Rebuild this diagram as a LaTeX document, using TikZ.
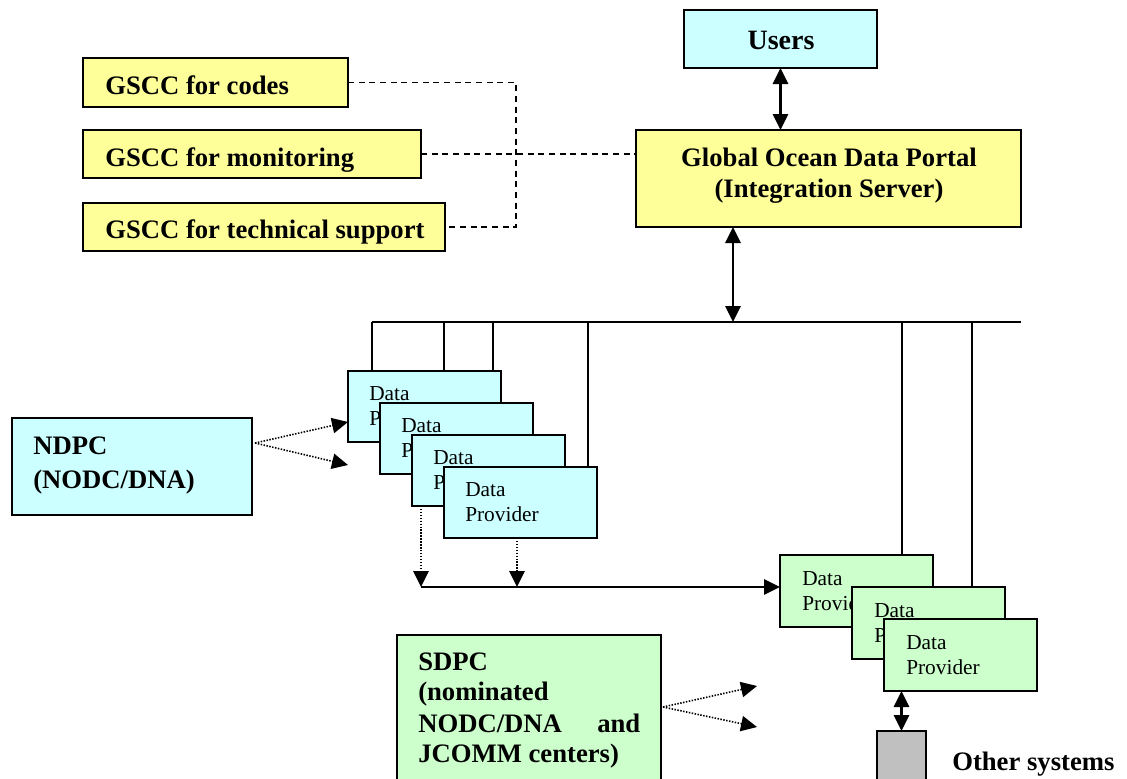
\documentclass[tikz,border=0pt]{standalone}
\usepackage{fontspec}
\setmainfont{Liberation Serif}
\usetikzlibrary{arrows.meta,fit,backgrounds}
\definecolor{cyanfill}{HTML}{CCFFFF}
\definecolor{yellowfill}{HTML}{FFFF99}
\definecolor{greenfill}{HTML}{CCFFCC}
\definecolor{greyfill}{HTML}{C0C0C0}
\begin{document}
\begin{tikzpicture}[x=0.75pt,y=-0.75pt,
  frame/.style={draw, line width=1.5pt, inner sep=0pt, outer sep=0pt},
  ybox/.style={frame, fill=yellowfill},
  cbox/.style={frame, fill=cyanfill},
  gbox/.style={frame, fill=greenfill},
  greybox/.style={frame, fill=greyfill},
  bigtxt/.style={font=\fontsize{20}{24}\selectfont\bfseries, inner sep=0pt, anchor=base west},
  smalltxt/.style={font=\fontsize{16}{19}\selectfont, inner sep=0pt, anchor=base west},
  conn/.style={line width=1.6pt},
  dashconn/.style={line width=1.4pt, dash pattern=on 4.5pt off 3.5pt},
  dotconn/.style={line width=1.2pt, dash pattern=on 1.1pt off 1.1pt},
  >={Triangle[length=12pt,width=11.5pt]}
]
\clip (0,0) rectangle (1127,778);

% top boxes
\node[cbox, fit={(684,10) (877,68)}] (users) {};
\node[bigtxt, anchor=base, font=\fontsize{21}{24}\selectfont\bfseries] (usersT) at (781,49) {Users};
\node[ybox, fit={(636,130) (1021,227)}] (godp) {};
\node[bigtxt, anchor=base] (godpT1) at (829,166) {Global Ocean Data Portal};
\node[bigtxt, anchor=base] (godpT2) at (829,197) {(Integration Server)};

\node[ybox, fit={(83,58) (348,107)}] (codes) {};
\node[bigtxt] (codesT) at (105,94) {GSCC for codes};
\node[ybox, fit={(83,130) (421,178)}] (mon) {};
\node[bigtxt] (monT) at (105,166) {GSCC for monitoring};
\node[ybox, fit={(83,203) (445,251)}] (tech) {};
\node[bigtxt] (techT) at (105,238) {GSCC for technical support};

% NDPC
\node[cbox, fit={(12,418) (252,515)}] (ndpc) {};
\node[bigtxt] (ndpcT1) at (33,454) {NDPC};
\node[bigtxt] (ndpcT2) at (33,488) {(NODC/DNA)};

% cyan data providers
\foreach \i/\x/\y in {1/348/371, 2/380/403, 3/412/435, 4/444/467} {
  \node[cbox, fit={(\x,\y) (\x+153,\y+71)}] (dp\i) {};
  \node[smalltxt] (dp\i a) at (\x+21,\y+29) {Data};
  \node[smalltxt] (dp\i b) at (\x+21,\y+54) {Provider};
}

% green data providers
\foreach \i/\x/\y in {1/780/555, 2/852/587, 3/884/619} {
  \node[gbox, fit={(\x,\y) (\x+153,\y+72)}] (g\i) {};
  \node[smalltxt] (g\i a) at (\x+22,\y+30) {Data};
  \node[smalltxt] (g\i b) at (\x+22,\y+55) {Provider};
}

% SDPC
\node[gbox, fit={(397,635) (661,800)}] (sdpc) {};
\node[bigtxt] (sdpcT1) at (418,670) {SDPC};
\node[bigtxt] (sdpcT2) at (418,700) {(nominated};
\node[bigtxt] (sdpcT3) at (418,732) {\hbox to 166.5pt{NODC/DNA\hfill and}};
\node[bigtxt] (sdpcT4) at (418,762) {JCOMM centers)};

% other systems
\node[greybox, fit={(877,731) (926,800)}] (grey) {};
\node[bigtxt] (otherT) at (952,770) {Other systems};

% coordinates
\coordinate (busL) at (372,322);
\coordinate (busR) at (1021,322);
\coordinate (busP) at (733,322);
\coordinate (t1) at (372,322);
\coordinate (t2) at (444,322);
\coordinate (t3) at (493,322);
\coordinate (t4) at (588,322);
\coordinate (t5) at (902,322);
\coordinate (t6) at (972,322);
\coordinate (dash) at (516,0);
\coordinate (ndS) at (255,443);
\coordinate (ndT1) at (348,422);
\coordinate (ndT2) at (348,465);
\coordinate (sdS) at (663,707);
\coordinate (sdT1) at (757,686);
\coordinate (sdT2) at (757,727);
\coordinate (jL) at (421,587);
\coordinate (jM) at (517,587);

\begin{scope}[on background layer]
  \draw[conn] (busL) -- (busR);
  \draw[conn] (t1) -- (t1 |- dp1.north);
  \draw[conn] (t2) -- (t2 |- dp2.north);
  \draw[conn] (t3) -- (t3 |- dp3.north);
  \draw[conn] (t4) -- (t4 |- dp4.north);
  \draw[conn] (t5) -- (t5 |- g1.north);
  \draw[conn] (t6) -- (t6 |- g2.north);
\end{scope}

% connectors
\draw[conn,<->] (users.south) -- (users.south |- godp.north);
\draw[conn,<->] (busP |- godp.south) -- (busP);

\draw[dashconn] (codes.east) -- (codes.east -| dash) -- (tech.east -| dash) -- (tech.east);
\draw[dashconn] (mon.east) -- (mon.east -| godp.west);

\draw[dotconn,->] (ndS) -- (ndT1);
\draw[dotconn,->] (ndS) -- (ndT2);
\draw[dotconn,->] (sdS) -- (sdT1);
\draw[dotconn,->] (sdS) -- (sdT2);

\draw[dotconn,->] (jL |- dp3.south) -- (jL);
\draw[dotconn,->] (jM |- dp4.south) -- (jM);
\draw[conn,->] (jL) -- (jL -| g1.west);

\draw[conn,<->] (grey.north |- g3.south) -- (grey.north);
\end{tikzpicture}
\end{document}
